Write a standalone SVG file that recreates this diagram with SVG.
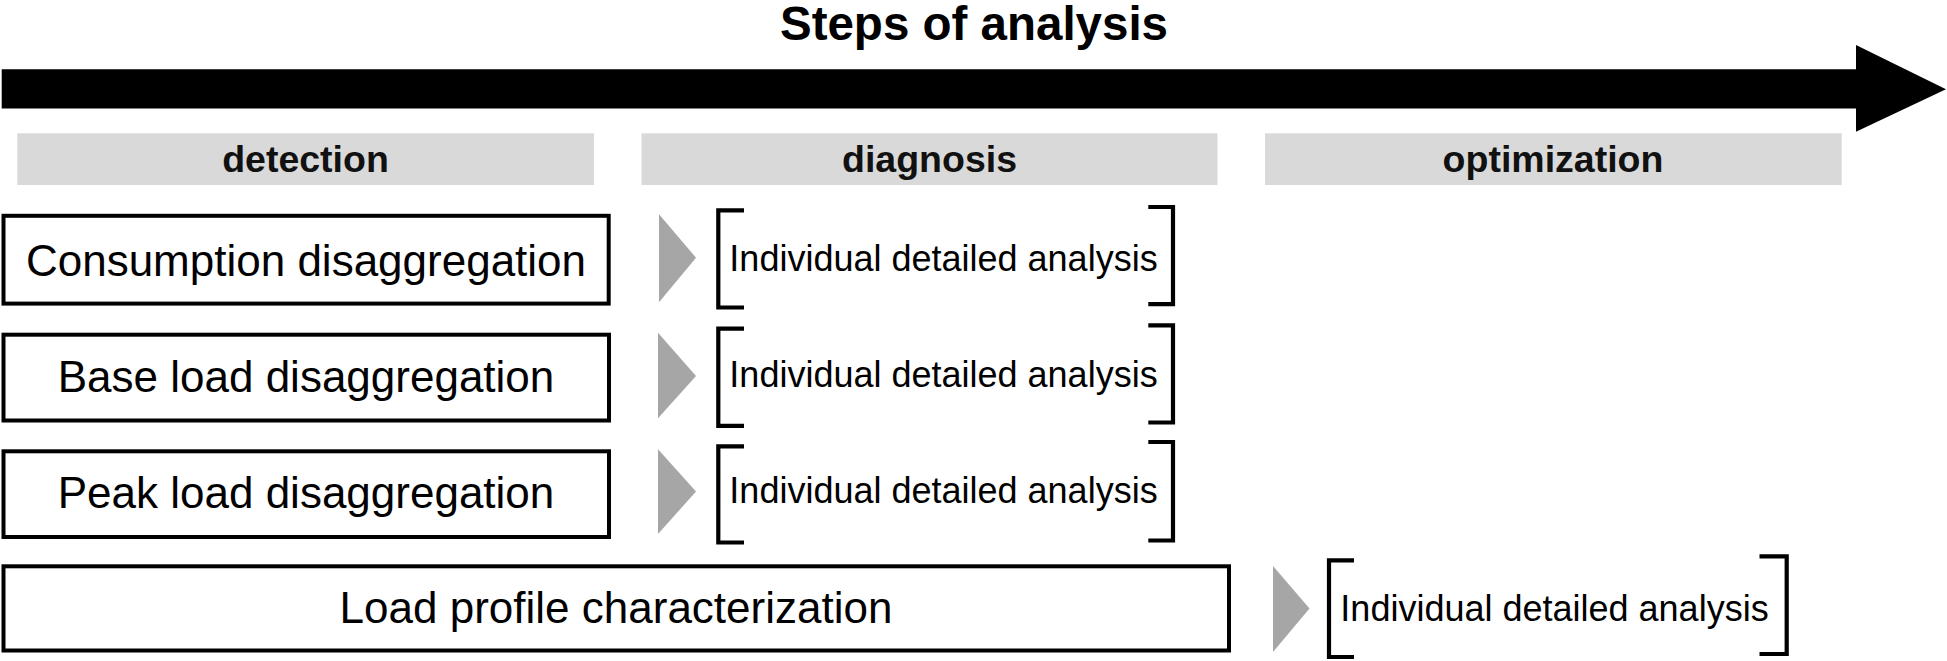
<svg xmlns="http://www.w3.org/2000/svg" width="1947" height="661" viewBox="0 0 1947 661">
<style>
.t{font-family:"Liberation Sans",Arial,sans-serif;fill:#000;text-anchor:middle}
.big{font-size:44px}
.small{font-size:36px}
.hdr{font-size:37.5px;font-weight:bold;fill:#111}
.box{fill:#fff;stroke:#000;stroke-width:4}
.head{fill:#d9d9d9}
.tri{fill:#a6a6a6}
.br{fill:none;stroke:#000;stroke-width:4.2}
</style>
<rect width="1947" height="661" fill="#fff"/>
<g id="title">
<text class="t" x="974" y="40" style="font-size:47.5px;font-weight:bold">Steps of analysis</text>
<path d="M1.7,69.3 H1856 V45 L1946,89.3 L1856,131.7 V108.5 H1.7 Z" fill="#000"/>
</g>
<g id="header-detection">
<rect class="head" x="17.3" y="133.3" width="576.7" height="51.7"/>
<text class="t hdr" x="305.5" y="172.3">detection</text>
</g>
<g id="header-diagnosis">
<rect class="head" x="641.5" y="133.3" width="576" height="51.7"/>
<text class="t hdr" x="929.5" y="172.3">diagnosis</text>
</g>
<g id="header-optimization">
<rect class="head" x="1265" y="133.3" width="576.7" height="51.7"/>
<text class="t hdr" x="1553" y="172.3">optimization</text>
</g>
<g id="node-consumption">
<rect class="box" x="3.5" y="215.8" width="605.2" height="87.8"/>
<text class="t big" x="306" y="276">Consumption disaggregation</text>
</g>
<g id="node-base">
<rect class="box" x="3.5" y="334.7" width="605.5" height="85.8"/>
<text class="t big" x="306" y="392">Base load disaggregation</text>
</g>
<g id="node-peak">
<rect class="box" x="3.5" y="451.3" width="605.5" height="85.7"/>
<text class="t big" x="306" y="508">Peak load disaggregation</text>
</g>
<g id="node-profile">
<rect class="box" x="3.5" y="566.3" width="1225.5" height="84.2"/>
<text class="t big" x="616" y="623">Load profile characterization</text>
</g>
<g id="connectors">
<polygon class="tri" points="659,214.3 696,257.7 659,302.3"/>
<polygon class="tri" points="658,332.7 696,376 658,418.3"/>
<polygon class="tri" points="658,449.3 696,491.5 658,534"/>
<polygon class="tri" points="1273,566 1309.5,608.5 1273,652"/>
</g>
<g id="analysis-1">
<path class="br" d="M744,210.3 H718.3 V307.5 H744"/>
<path class="br" d="M1148.3,207 H1173 V304.2 H1148.3"/>
<text class="t small" x="943.5" y="271">Individual detailed analysis</text>
</g>
<g id="analysis-2">
<path class="br" d="M744,328.7 H718.3 V425.8 H744"/>
<path class="br" d="M1148.3,325.3 H1173 V422.5 H1148.3"/>
<text class="t small" x="943.5" y="387">Individual detailed analysis</text>
</g>
<g id="analysis-3">
<path class="br" d="M744,446.3 H718.3 V542.5 H744"/>
<path class="br" d="M1148.3,442 H1173 V540.5 H1148.3"/>
<text class="t small" x="943.5" y="503">Individual detailed analysis</text>
</g>
<g id="analysis-4">
<path class="br" d="M1354,560.3 H1329 V657 H1354"/>
<path class="br" d="M1759.5,556.3 H1786.7 V654 H1759.5"/>
<text class="t small" x="1554.5" y="620.7">Individual detailed analysis</text>
</g>
</svg>
